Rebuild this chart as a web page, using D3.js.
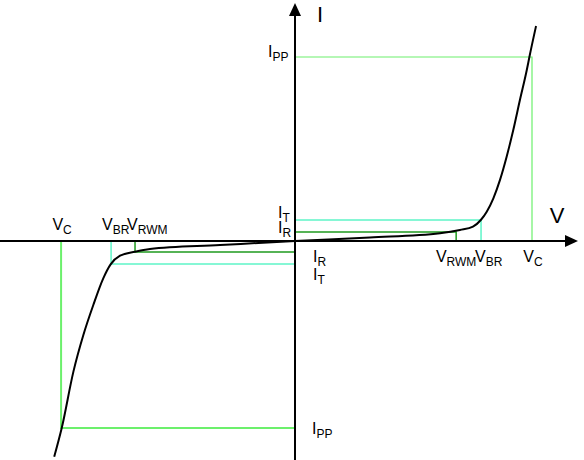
<!DOCTYPE html>
<html>
<head>
  <script src="https://d3js.org/d3.v7.min.js"></script>
  <style>
    body { margin: 0; background: #fff; }
    text { font-family: "Liberation Sans", Arial, sans-serif; fill: #000; }
  </style>
</head>
<body>
  <svg id="ivcurve" width="584" height="460"></svg>
  <script>
    // I-V characteristic of a bidirectional TVS diode (arbitrary units)
    const curveV = [-10.16, -9.84, -9.35, -8.93, -8.51, -8.09, -7.78, -7.38, -6.75, -6.12, -3.16, 0,
                    3.16, 6.12, 6.96, 7.51, 7.84, 8.09, 8.37, 8.65, 8.93, 9.21, 9.49, 9.78, 9.89, 10.17];
    const curveI = [-11.72, -10.15, -7.10, -5.11, -3.48, -2.03, -1.27, -0.80, -0.58, -0.43, -0.22, 0,
                    0.19, 0.42, 0.60, 0.78, 1.14, 1.59, 2.32, 3.32, 4.58, 6.03, 7.66, 9.29, 10.0, 11.68];

    // positive side levels
    const posV = { VRWM: 6.8, VBR: 7.85, VC: 10.0 };
    const posI = { IR: 0.49, IT: 1.14, IPP: 10.0 };
    // negative side levels
    const negV = { VRWM: -6.75, VBR: -7.76, VC: -9.87 };
    const negI = { IR: -0.6, IT: -1.25, IPP: -10.16 };

    const svg = d3.select("svg#ivcurve");
    const x = d3.scaleLinear().domain([0, 10]).range([295, 532]);
    const y = d3.scaleLinear().domain([0, 10]).range([241, 57]);

    const cyan = "#5ff5c8", dkgreen = "#1f9a1f", ltgreen = "#6cf06c";

    const guides = svg.append("g").attr("fill", "none");
    function box(v, i, color, w) {
      guides.append("path")
        .attr("d", `M${x(0)},${y(i)}H${x(v)}V${y(0)}`)
        .attr("stroke", color).attr("stroke-width", w);
    }
    box(posV.VC, posI.IPP, ltgreen, 1.2);
    box(posV.VBR, posI.IT, cyan, 1.5);
    box(posV.VRWM, posI.IR, dkgreen, 1.5);
    box(negV.VC, negI.IPP, ltgreen, 2);
    box(negV.VBR, negI.IT, cyan, 1.5);
    box(negV.VRWM, negI.IR, dkgreen, 1.5);

    // axes
    const axes = svg.append("g");
    axes.append("line").attr("x1", 0).attr("x2", 566).attr("y1", y(0)).attr("y2", y(0))
      .attr("stroke", "#000").attr("stroke-width", 2);
    axes.append("line").attr("x1", x(0)).attr("x2", x(0)).attr("y1", 14).attr("y2", 460)
      .attr("stroke", "#000").attr("stroke-width", 2);
    axes.append("path").attr("d", `M578,${y(0)}L565,${y(0) - 6}L565,${y(0) + 6}Z`).attr("fill", "#000");
    axes.append("path").attr("d", `M${x(0)},3L${x(0) - 6},16L${x(0) + 6},16Z`).attr("fill", "#000");

    // curve
    const line = d3.line()
      .x((d, k) => x(curveV[k]))
      .y((d, k) => y(curveI[k]))
      .curve(d3.curveMonotoneX);
    svg.append("path")
      .datum(curveV)
      .attr("d", line)
      .attr("fill", "none")
      .attr("stroke", "#000")
      .attr("stroke-width", 2);

    // labels
    const lab = svg.append("g");
    function label(px, py, main, sub, anchor, size) {
      const t = lab.append("text").attr("x", px).attr("y", py)
        .attr("text-anchor", anchor || "start")
        .attr("font-size", size || 16);
      t.append("tspan").text(main);
      if (sub) t.append("tspan").attr("font-size", 12).attr("dy", 4).text(sub);
      return t;
    }
    label(x(0) + 22, 22, "I", null, "start", 22);
    label(557, 223, "V", null, "middle", 22);

    label(x(posV.VC) + 1, 262, "V", "C", "middle");
    label(x(posV.VRWM), 262, "V", "RWM", "middle");
    label(x(posV.VBR) - 6, 262, "V", "BR", "start");
    label(x(0) + 18, 262, "I", "R");
    label(x(0) + 18, 280, "I", "T");
    label(x(0) - 17, 218, "I", "T");
    label(x(0) - 17, 233, "I", "R");
    label(x(0) - 27, 57, "I", "PP");
    label(x(0) + 17, 434, "I", "PP");

    label(x(negV.VC) + 1, 230, "V", "C", "middle");
    label(x(negV.VBR) - 9, 230, "V", "BR", "start");
    label(x(negV.VRWM) - 8, 230, "V", "RWM", "start");
  </script>
</body>
</html>
